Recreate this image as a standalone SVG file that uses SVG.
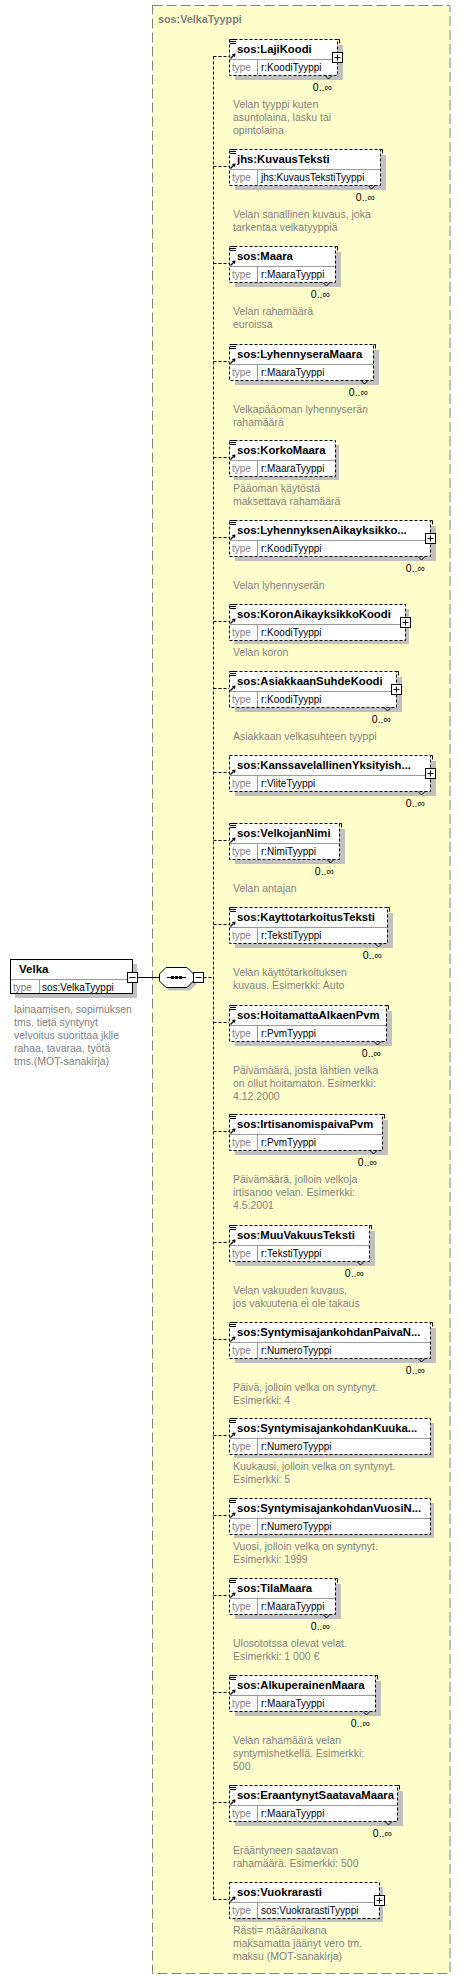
<svg xmlns="http://www.w3.org/2000/svg" width="461" height="1979" viewBox="0 0 461 1979">
<style>
text{font-family:"Liberation Sans",Arial,sans-serif}
.sh{fill:#c0c0c0}
.bx{fill:#fff;stroke:#000;stroke-dasharray:3,2}
.dv{fill:none;stroke:#999}
.mk{fill:none;stroke:#000}
.hd{font-size:11.3px;font-weight:bold;fill:#000}
.tl{font-size:10px;fill:#808080}
.tv{font-size:10px;fill:#000}
.mu{font-size:10.5px;fill:#000;text-anchor:end}
.ds{font-size:10.5px;fill:#808080}
.cn{fill:none;stroke:#000;stroke-dasharray:3,2}
</style>
<defs>
<g id="ann"><path d="M0,0.5h6M0,2.5h6M0,4.5h6" stroke="#000" fill="none"/></g>
<g id="ref"><path d="M1.5,5.5L5,2" stroke="#000" stroke-width="1.2"/><path d="M6.5,0.5L2.8,1L6,4.2Z" fill="#000"/></g>
<g id="plus"><rect x="0.5" y="0.5" width="10" height="10" fill="#fff" stroke="#000"/><path d="M2.5,5.5h6M5.5,2.5v6" stroke="#000"/></g>
<g id="minus"><rect x="0.5" y="0.5" width="10" height="10" fill="#fff" stroke="#000"/><path d="M2.5,5.5h6" stroke="#000"/></g>
</defs>

<g id="VelkaTyyppi">
<rect x="152.5" y="5.5" width="297.5" height="1968" fill="#ffffcc" stroke="#808080" stroke-dasharray="10,4"/>
<text x="158" y="23" style="font-size:10.8px;font-weight:bold;fill:#808080">sos:VelkaTyyppi</text>
</g>

<g id="connectors">
<path d="M137.5,977.5H159.5" stroke="#000" fill="none"/>
<path class="cn" d="M203.5,977.5H213.5M213.5,56.5V1899.5M213.5,56.5H229M213.5,166.5H229M213.5,263.5H229M213.5,361.5H229M213.5,457.5H229M213.5,537.5H229M213.5,621.5H229M213.5,688.5H229M213.5,772.5H229M213.5,840.5H229M213.5,924.5H229M213.5,1022.5H229M213.5,1131.5H229M213.5,1242.5H229M213.5,1339.5H229M213.5,1435.5H229M213.5,1515.5H229M213.5,1595.5H229M213.5,1692.5H229M213.5,1802.5H229M213.5,1899.5H229"/>
</g>

<g id="Velka">
<rect class="sh" x="15" y="964" width="122" height="34"/>
<rect x="10.5" y="959.5" width="122" height="34" fill="#fff" stroke="#000"/>
<path class="dv" d="M11,979.5H132M39.5,980V993"/>
<text class="hd" x="19" y="973" style="font-size:11.5px">Velka</text>
<text class="tl" x="13" y="991">type</text>
<text class="tv" x="42" y="991">sos:VelkaTyyppi</text>
<use href="#minus" x="127" y="972"/>
<text class="ds" x="14" y="1012.5">lainaamisen, sopimuksen</text>
<text class="ds" x="14" y="1025.5">tms. tietä syntynyt</text>
<text class="ds" x="14" y="1038.5">velvoitus suorittaa jklle</text>
<text class="ds" x="14" y="1051.5">rahaa, tavaraa, työtä</text>
<text class="ds" x="14" y="1064.5">tms.(MOT-sanakirja)</text>
</g>

<g id="sequence">
<polygon points="169,970.5 190,970.5 196.5,977 196.5,984 190,990.5 169,990.5 162.5,984 162.5,977" fill="#c0c0c0"/>
<polygon points="166,967.5 187,967.5 193.5,974 193.5,981 187,987.5 166,987.5 159.5,981 159.5,974" fill="#fff" stroke="#000"/>
<path d="M167,977.5H186" stroke="#000"/>
<rect x="171" y="976" width="3" height="3"/>
<rect x="175" y="976" width="3" height="3"/>
<rect x="179" y="976" width="3" height="3"/>
<use href="#minus" x="193" y="972"/>
</g>

<g id="LajiKoodi">
<rect class="sh" x="235" y="45" width="108" height="35"/>
<rect class="bx" x="229.5" y="39.5" width="108" height="36"/>
<path class="dv" d="M230,59.5H337M257.5,60V75"/>
<path class="mk" d="M337.5,39.5h2v4M325,75.5l3.5,3.5l3.5,-3.5"/>
<use href="#ann" x="230" y="39"/><use href="#ref" x="229" y="53"/><use href="#plus" x="332" y="52"/>
<text class="hd" x="237" y="53">sos:LajiKoodi</text>
<text class="tl" x="232" y="71">type</text><text class="tv" x="261" y="71">r:KoodiTyyppi</text>
<text class="mu" x="332" y="91">0..∞</text>
<text class="ds" x="233" y="108">Velan tyyppi kuten</text>
<text class="ds" x="233" y="121">asuntolaina, lasku tai</text>
<text class="ds" x="233" y="134">opintolaina</text>
</g>

<g id="KuvausTeksti">
<rect class="sh" x="235" y="155" width="151" height="35"/>
<rect class="bx" x="229.5" y="149.5" width="151" height="36"/>
<path class="dv" d="M230,169.5H380M257.5,170V185"/>
<path class="mk" d="M380.5,149.5h2v4M368,185.5l3.5,3.5l3.5,-3.5"/>
<use href="#ann" x="230" y="149"/><use href="#ref" x="229" y="163"/>
<text class="hd" x="237" y="163">jhs:KuvausTeksti</text>
<text class="tl" x="232" y="181">type</text><text class="tv" x="261" y="181">jhs:KuvausTekstiTyyppi</text>
<text class="mu" x="375" y="201">0..∞</text>
<text class="ds" x="233" y="218">Velan sanallinen kuvaus, joka</text>
<text class="ds" x="233" y="231">tarkentaa velkatyyppiä</text>
</g>

<g id="Maara">
<rect class="sh" x="235" y="252" width="106" height="35"/>
<rect class="bx" x="229.5" y="246.5" width="106" height="36"/>
<path class="dv" d="M230,266.5H335M257.5,267V282"/>
<path class="mk" d="M335.5,246.5h2v4M323,282.5l3.5,3.5l3.5,-3.5"/>
<use href="#ann" x="230" y="246"/><use href="#ref" x="229" y="260"/>
<text class="hd" x="237" y="260">sos:Maara</text>
<text class="tl" x="232" y="278">type</text><text class="tv" x="261" y="278">r:MaaraTyyppi</text>
<text class="mu" x="330" y="298">0..∞</text>
<text class="ds" x="233" y="315">Velan rahamäärä</text>
<text class="ds" x="233" y="328">euroissa</text>
</g>

<g id="LyhennyseraMaara">
<rect class="sh" x="235" y="350" width="144" height="35"/>
<rect class="bx" x="229.5" y="344.5" width="144" height="36"/>
<path class="dv" d="M230,364.5H373M257.5,365V380"/>
<path class="mk" d="M373.5,344.5h2v4M361,380.5l3.5,3.5l3.5,-3.5"/>
<use href="#ann" x="230" y="344"/><use href="#ref" x="229" y="358"/>
<text class="hd" x="237" y="358">sos:LyhennyseraMaara</text>
<text class="tl" x="232" y="376">type</text><text class="tv" x="261" y="376">r:MaaraTyyppi</text>
<text class="mu" x="368" y="396">0..∞</text>
<text class="ds" x="233" y="413">Velkapääoman lyhennyserän</text>
<text class="ds" x="233" y="426">rahamäärä</text>
</g>

<g id="KorkoMaara">
<rect class="sh" x="234" y="445" width="105" height="35"/>
<rect class="bx" x="229.5" y="440.5" width="106" height="36"/>
<path class="dv" d="M230,460.5H335M257.5,461V476"/>
<use href="#ann" x="230" y="440"/><use href="#ref" x="229" y="454"/>
<text class="hd" x="237" y="454">sos:KorkoMaara</text>
<text class="tl" x="232" y="472">type</text><text class="tv" x="261" y="472">r:MaaraTyyppi</text>
<text class="ds" x="233" y="492">Pääoman käytöstä</text>
<text class="ds" x="233" y="505">maksettava rahamäärä</text>
</g>

<g id="LyhennyksenAikayksikkoKoodi">
<rect class="sh" x="235" y="526" width="201" height="35"/>
<rect class="bx" x="229.5" y="520.5" width="201" height="36"/>
<path class="dv" d="M230,540.5H430M257.5,541V556"/>
<path class="mk" d="M430.5,520.5h2v4M418,556.5l3.5,3.5l3.5,-3.5"/>
<use href="#ann" x="230" y="520"/><use href="#ref" x="229" y="534"/><use href="#plus" x="425" y="533"/>
<text class="hd" x="237" y="534">sos:LyhennyksenAikayksikko...</text>
<text class="tl" x="232" y="552">type</text><text class="tv" x="261" y="552">r:KoodiTyyppi</text>
<text class="mu" x="425" y="572">0..∞</text>
<text class="ds" x="233" y="589">Velan lyhennyserän</text>
</g>

<g id="KoronAikayksikkoKoodi">
<rect class="sh" x="234" y="609" width="175" height="35"/>
<rect class="bx" x="229.5" y="604.5" width="176" height="36"/>
<path class="dv" d="M230,624.5H405M257.5,625V640"/>
<use href="#ann" x="230" y="604"/><use href="#ref" x="229" y="618"/><use href="#plus" x="400" y="617"/>
<text class="hd" x="237" y="618">sos:KoronAikayksikkoKoodi</text>
<text class="tl" x="232" y="636">type</text><text class="tv" x="261" y="636">r:KoodiTyyppi</text>
<text class="ds" x="233" y="656">Velan koron</text>
</g>

<g id="AsiakkaanSuhdeKoodi">
<rect class="sh" x="235" y="677" width="167" height="35"/>
<rect class="bx" x="229.5" y="671.5" width="167" height="36"/>
<path class="dv" d="M230,691.5H396M257.5,692V707"/>
<path class="mk" d="M396.5,671.5h2v4M384,707.5l3.5,3.5l3.5,-3.5"/>
<use href="#ann" x="230" y="671"/><use href="#ref" x="229" y="685"/><use href="#plus" x="391" y="684"/>
<text class="hd" x="237" y="685">sos:AsiakkaanSuhdeKoodi</text>
<text class="tl" x="232" y="703">type</text><text class="tv" x="261" y="703">r:KoodiTyyppi</text>
<text class="mu" x="391" y="723">0..∞</text>
<text class="ds" x="233" y="740">Asiakkaan velkasuhteen tyyppi</text>
</g>

<g id="KanssavelallinenYksityishenkilo">
<rect class="sh" x="235" y="761" width="201" height="35"/>
<rect class="bx" x="229.5" y="755.5" width="201" height="36"/>
<path class="dv" d="M230,775.5H430M257.5,776V791"/>
<path class="mk" d="M430.5,755.5h2v4M418,791.5l3.5,3.5l3.5,-3.5"/>
<use href="#ref" x="229" y="769"/><use href="#plus" x="425" y="768"/>
<text class="hd" x="237" y="769">sos:KanssavelallinenYksityish...</text>
<text class="tl" x="232" y="787">type</text><text class="tv" x="261" y="787">r:ViiteTyyppi</text>
<text class="mu" x="425" y="807">0..∞</text>
</g>

<g id="VelkojanNimi">
<rect class="sh" x="235" y="829" width="110" height="35"/>
<rect class="bx" x="229.5" y="823.5" width="110" height="36"/>
<path class="dv" d="M230,843.5H339M257.5,844V859"/>
<path class="mk" d="M339.5,823.5h2v4M327,859.5l3.5,3.5l3.5,-3.5"/>
<use href="#ann" x="230" y="823"/><use href="#ref" x="229" y="837"/>
<text class="hd" x="237" y="837">sos:VelkojanNimi</text>
<text class="tl" x="232" y="855">type</text><text class="tv" x="261" y="855">r:NimiTyyppi</text>
<text class="mu" x="334" y="875">0..∞</text>
<text class="ds" x="233" y="892">Velan antajan</text>
</g>

<g id="KayttotarkoitusTeksti">
<rect class="sh" x="235" y="913" width="158" height="35"/>
<rect class="bx" x="229.5" y="907.5" width="158" height="36"/>
<path class="dv" d="M230,927.5H387M257.5,928V943"/>
<path class="mk" d="M387.5,907.5h2v4M375,943.5l3.5,3.5l3.5,-3.5"/>
<use href="#ann" x="230" y="907"/><use href="#ref" x="229" y="921"/>
<text class="hd" x="237" y="921">sos:KayttotarkoitusTeksti</text>
<text class="tl" x="232" y="939">type</text><text class="tv" x="261" y="939">r:TekstiTyyppi</text>
<text class="mu" x="382" y="959">0..∞</text>
<text class="ds" x="233" y="976">Velan käyttötarkoituksen</text>
<text class="ds" x="233" y="989">kuvaus. Esimerkki: Auto</text>
</g>

<g id="HoitamattaAlkaenPvm">
<rect class="sh" x="235" y="1011" width="157" height="35"/>
<rect class="bx" x="229.5" y="1005.5" width="157" height="36"/>
<path class="dv" d="M230,1025.5H386M257.5,1026V1041"/>
<path class="mk" d="M386.5,1005.5h2v4M374,1041.5l3.5,3.5l3.5,-3.5"/>
<use href="#ann" x="230" y="1005"/><use href="#ref" x="229" y="1019"/>
<text class="hd" x="237" y="1019">sos:HoitamattaAlkaenPvm</text>
<text class="tl" x="232" y="1037">type</text><text class="tv" x="261" y="1037">r:PvmTyyppi</text>
<text class="mu" x="381" y="1057">0..∞</text>
<text class="ds" x="233" y="1074">Päivämäärä, josta lähtien velka</text>
<text class="ds" x="233" y="1087">on ollut hoitamaton. Esimerkki:</text>
<text class="ds" x="233" y="1100">4.12.2000</text>
</g>

<g id="IrtisanomispaivaPvm">
<rect class="sh" x="235" y="1120" width="153" height="35"/>
<rect class="bx" x="229.5" y="1114.5" width="153" height="36"/>
<path class="dv" d="M230,1134.5H382M257.5,1135V1150"/>
<path class="mk" d="M382.5,1114.5h2v4M370,1150.5l3.5,3.5l3.5,-3.5"/>
<use href="#ann" x="230" y="1114"/><use href="#ref" x="229" y="1128"/>
<text class="hd" x="237" y="1128">sos:IrtisanomispaivaPvm</text>
<text class="tl" x="232" y="1146">type</text><text class="tv" x="261" y="1146">r:PvmTyyppi</text>
<text class="mu" x="377" y="1166">0..∞</text>
<text class="ds" x="233" y="1183">Päivämäärä, jolloin velkoja</text>
<text class="ds" x="233" y="1196">irtisanoo velan. Esimerkki:</text>
<text class="ds" x="233" y="1209">4.5.2001</text>
</g>

<g id="MuuVakuusTeksti">
<rect class="sh" x="235" y="1231" width="140" height="35"/>
<rect class="bx" x="229.5" y="1225.5" width="140" height="36"/>
<path class="dv" d="M230,1245.5H369M257.5,1246V1261"/>
<path class="mk" d="M369.5,1225.5h2v4M357,1261.5l3.5,3.5l3.5,-3.5"/>
<use href="#ann" x="230" y="1225"/><use href="#ref" x="229" y="1239"/>
<text class="hd" x="237" y="1239">sos:MuuVakuusTeksti</text>
<text class="tl" x="232" y="1257">type</text><text class="tv" x="261" y="1257">r:TekstiTyyppi</text>
<text class="mu" x="364" y="1277">0..∞</text>
<text class="ds" x="233" y="1294">Velan vakuuden kuvaus,</text>
<text class="ds" x="233" y="1307">jos vakuutena ei ole takaus</text>
</g>

<g id="SyntymisajankohdanPaivaNumero">
<rect class="sh" x="235" y="1328" width="201" height="35"/>
<rect class="bx" x="229.5" y="1322.5" width="201" height="36"/>
<path class="dv" d="M230,1342.5H430M257.5,1343V1358"/>
<path class="mk" d="M430.5,1322.5h2v4M418,1358.5l3.5,3.5l3.5,-3.5"/>
<use href="#ann" x="230" y="1322"/><use href="#ref" x="229" y="1336"/>
<text class="hd" x="237" y="1336">sos:SyntymisajankohdanPaivaN...</text>
<text class="tl" x="232" y="1354">type</text><text class="tv" x="261" y="1354">r:NumeroTyyppi</text>
<text class="mu" x="425" y="1374">0..∞</text>
<text class="ds" x="233" y="1391">Päivä, jolloin velka on syntynyt.</text>
<text class="ds" x="233" y="1404">Esimerkki: 4</text>
</g>

<g id="SyntymisajankohdanKuukausiNumero">
<rect class="sh" x="234" y="1423" width="200" height="35"/>
<rect class="bx" x="229.5" y="1418.5" width="201" height="36"/>
<path class="dv" d="M230,1438.5H430M257.5,1439V1454"/>
<use href="#ann" x="230" y="1418"/><use href="#ref" x="229" y="1432"/>
<text class="hd" x="237" y="1432">sos:SyntymisajankohdanKuuka...</text>
<text class="tl" x="232" y="1450">type</text><text class="tv" x="261" y="1450">r:NumeroTyyppi</text>
<text class="ds" x="233" y="1470">Kuukausi, jolloin velka on syntynyt.</text>
<text class="ds" x="233" y="1483">Esimerkki: 5</text>
</g>

<g id="SyntymisajankohdanVuosiNumero">
<rect class="sh" x="234" y="1503" width="200" height="35"/>
<rect class="bx" x="229.5" y="1498.5" width="201" height="36"/>
<path class="dv" d="M230,1518.5H430M257.5,1519V1534"/>
<use href="#ann" x="230" y="1498"/><use href="#ref" x="229" y="1512"/>
<text class="hd" x="237" y="1512">sos:SyntymisajankohdanVuosiN...</text>
<text class="tl" x="232" y="1530">type</text><text class="tv" x="261" y="1530">r:NumeroTyyppi</text>
<text class="ds" x="233" y="1550">Vuosi, jolloin velka on syntynyt.</text>
<text class="ds" x="233" y="1563">Esimerkki: 1999</text>
</g>

<g id="TilaMaara">
<rect class="sh" x="235" y="1584" width="106" height="35"/>
<rect class="bx" x="229.5" y="1578.5" width="106" height="36"/>
<path class="dv" d="M230,1598.5H335M257.5,1599V1614"/>
<path class="mk" d="M335.5,1578.5h2v4M323,1614.5l3.5,3.5l3.5,-3.5"/>
<use href="#ann" x="230" y="1578"/><use href="#ref" x="229" y="1592"/>
<text class="hd" x="237" y="1592">sos:TilaMaara</text>
<text class="tl" x="232" y="1610">type</text><text class="tv" x="261" y="1610">r:MaaraTyyppi</text>
<text class="mu" x="330" y="1630">0..∞</text>
<text class="ds" x="233" y="1647">Ulosototssa olevat velat.</text>
<text class="ds" x="233" y="1660">Esimerkki: 1 000 €</text>
</g>

<g id="AlkuperainenMaara">
<rect class="sh" x="235" y="1681" width="146" height="35"/>
<rect class="bx" x="229.5" y="1675.5" width="146" height="36"/>
<path class="dv" d="M230,1695.5H375M257.5,1696V1711"/>
<path class="mk" d="M375.5,1675.5h2v4M363,1711.5l3.5,3.5l3.5,-3.5"/>
<use href="#ann" x="230" y="1675"/><use href="#ref" x="229" y="1689"/>
<text class="hd" x="237" y="1689">sos:AlkuperainenMaara</text>
<text class="tl" x="232" y="1707">type</text><text class="tv" x="261" y="1707">r:MaaraTyyppi</text>
<text class="mu" x="370" y="1727">0..∞</text>
<text class="ds" x="233" y="1744">Velan rahamäärä velan</text>
<text class="ds" x="233" y="1757">syntymishetkellä. Esimerkki:</text>
<text class="ds" x="233" y="1770">500</text>
</g>

<g id="EraantynytSaatavaMaara">
<rect class="sh" x="235" y="1791" width="168" height="35"/>
<rect class="bx" x="229.5" y="1785.5" width="168" height="36"/>
<path class="dv" d="M230,1805.5H397M257.5,1806V1821"/>
<path class="mk" d="M397.5,1785.5h2v4M385,1821.5l3.5,3.5l3.5,-3.5"/>
<use href="#ann" x="230" y="1785"/><use href="#ref" x="229" y="1799"/>
<text class="hd" x="237" y="1799">sos:EraantynytSaatavaMaara</text>
<text class="tl" x="232" y="1817">type</text><text class="tv" x="261" y="1817">r:MaaraTyyppi</text>
<text class="mu" x="392" y="1837">0..∞</text>
<text class="ds" x="233" y="1854">Erääntyneen saatavan</text>
<text class="ds" x="233" y="1867">rahamäärä. Esimerkki: 500</text>
</g>

<g id="Vuokrarasti">
<rect class="sh" x="234" y="1887" width="149" height="35"/>
<rect class="bx" x="229.5" y="1882.5" width="150" height="36"/>
<path class="dv" d="M230,1902.5H379M257.5,1903V1918"/>
<use href="#ref" x="229" y="1896"/><use href="#plus" x="374" y="1895"/>
<text class="hd" x="237" y="1896">sos:Vuokrarasti</text>
<text class="tl" x="232" y="1914">type</text><text class="tv" x="261" y="1914">sos:VuokrarastiTyyppi</text>
<text class="ds" x="233" y="1934">Rästi= määräaikana</text>
<text class="ds" x="233" y="1947">maksamatta jäänyt vero tm.</text>
<text class="ds" x="233" y="1960">maksu (MOT-sanakirja)</text>
</g>
</svg>
